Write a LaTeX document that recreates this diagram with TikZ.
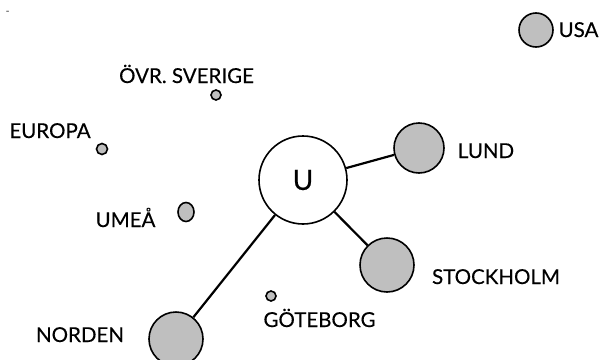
\documentclass[tikz,border=0pt]{standalone}
\usepackage{fontspec}
\setmainfont{Lato}[FakeBold=0.3]
\usetikzlibrary{positioning,shapes.geometric}

\begin{document}
\begin{tikzpicture}[x=1pt, y=-1pt, line width=1.6pt,
    font=\fontsize{20.5}{24}\selectfont,
    town/.style={circle, draw, fill=gray!50, inner sep=0pt},
    place/.style={anchor=base, inner sep=0pt}]
    \useasboundingbox (0,0) rectangle (602,359);%
    \node[font=\fontsize{10}{11}\selectfont, text=black!70] (dash) at (7.5,12.5) {-};%
    \node[circle, draw, minimum size=88pt, font=\fontsize{28}{32}\selectfont] (u) at (303,180) {U};%
    \node[town, minimum size=50pt] (lund) at (419,148) {};%
    \node[town, minimum size=54pt] (sthlm) at (387,265) {};%
    \node[town, minimum size=54pt] (norden) at (176,339) {};%
    \node[town, minimum size=34pt] (usa) at (536,30) {};%
    \node[town, minimum size=10pt] (ovr) at (216,95) {};%
    \node[town, minimum size=11pt] (europa) at (102,149) {};%
    \node[town, ellipse, minimum width=16pt, minimum height=19pt] (umea) at (186,212) {};%
    \node[town, minimum size=10pt] (gbg) at (271,296) {};%
    \node[place] (lundtxt) at (486,158) {LUND};%
    \node[place] (sthlmtxt) at (496,284) {STOCKHOLM};%
    \node[place] (nordentxt) at (80,342) {NORDEN};%
    \node[place] (usatxt) at (578.5,37) {USA};%
    \node[place] (ovrtxt) at (186.5,83) {ÖVR. SVERIGE};%
    \node[place] (europatxt) at (50,138) {EUROPA};%
    \node[place] (umeatxt) at (125.5,227) {UMEÅ};%
    \node[place] (gbgtxt) at (319.5,327) {GÖTEBORG};%
    \draw[line width=2.2pt] (u) -- (lund);%
    \draw[line width=2.2pt] (u) -- (sthlm);%
    \draw[line width=2.2pt] (u) -- (norden);%
\end{tikzpicture}
\end{document}
